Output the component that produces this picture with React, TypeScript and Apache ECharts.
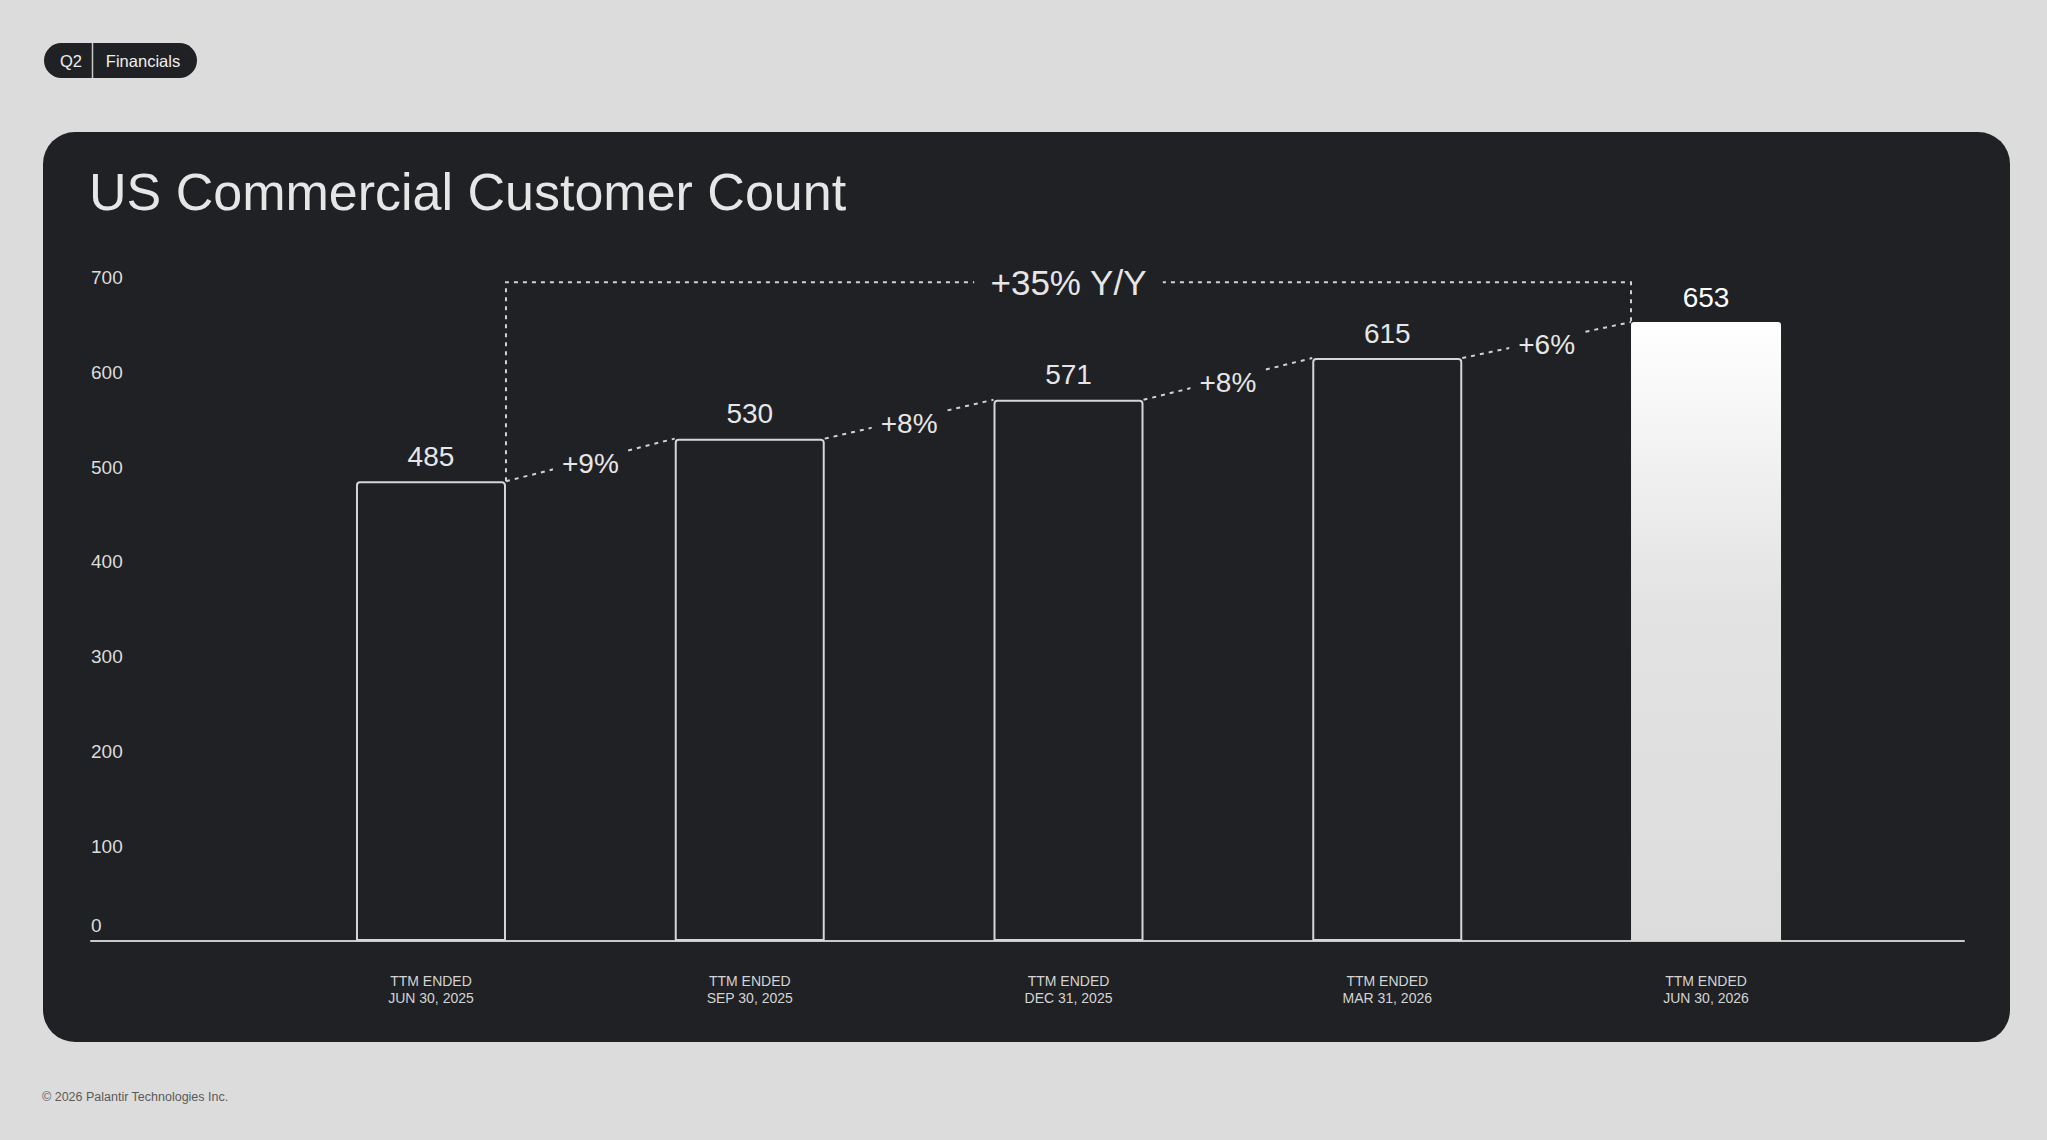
import { useEffect, useRef } from 'react';
import * as echarts from 'echarts';

// Reporting periods (x axis) and customer counts.
const PERIODS = [
  'TTM ENDED\nJUN 30, 2025',
  'TTM ENDED\nSEP 30, 2025',
  'TTM ENDED\nDEC 31, 2025',
  'TTM ENDED\nMAR 31, 2026',
  'TTM ENDED\nJUN 30, 2026',
];
const CUSTOMERS = [485, 530, 571, 615, 653];
const QOQ_GROWTH = ['+9%', '+8%', '+8%', '+6%'];
const YOY_GROWTH = '+35% Y/Y';
const Y_MIN = 0;
const Y_MAX = 700;
const Y_STEP = 100;
const BRACKET_LEVEL = 695;

const FONT = '"Liberation Sans", Arial, sans-serif';
const PAGE_BG = '#dcdcdc';
const CARD_BG = '#1f2124';
const BAR_WIDTH = 150;
const DOT = '#d2d2d2';
const DASH = [4, 5];

export default function App() {
  const ref = useRef<HTMLDivElement>(null);

  useEffect(() => {
    if (!ref.current) return;
    const chart = echarts.init(ref.current, undefined, { renderer: 'svg' });
    const last = CUSTOMERS.length - 1;
    const half = BAR_WIDTH / 2;

    const barData = CUSTOMERS.map((v, i) =>
      i === last
        ? {
            value: v,
            itemStyle: {
              color: new echarts.graphic.LinearGradient(0, 0, 0, 1, [
                { offset: 0, color: '#ffffff' },
                { offset: 0.45, color: '#e3e3e3' },
                { offset: 1, color: '#dcdcdc' },
              ]),
              borderWidth: 0,
            },
            label: { color: '#ffffff' },
          }
        : v,
    );

    // 环比连线：相邻柱顶角之间的点线，中间写增幅。
    const stepData = QOQ_GROWTH.map((_, i) => [i, CUSTOMERS[i], CUSTOMERS[i + 1]]);

    chart.setOption({
      animation: false,
      backgroundColor: PAGE_BG,
      textStyle: { fontFamily: FONT },
      graphic: [
        { type: 'rect', z: -5, shape: { x: 43, y: 132, width: 1967, height: 910, r: 32 }, style: { fill: CARD_BG } },
        { type: 'rect', z: 10, shape: { x: 44, y: 43, width: 153, height: 35, r: 17.5 }, style: { fill: CARD_BG } },
        { type: 'line', z: 11, shape: { x1: 92.5, y1: 43, x2: 92.5, y2: 78 }, style: { stroke: '#c8c8c8', lineWidth: 1.5 } },
        { type: 'text', z: 11, x: 71, y: 61, style: { text: 'Q2', fill: '#f0f0f0', fontSize: 16.5, fontFamily: FONT, align: 'center', verticalAlign: 'middle' } },
        { type: 'text', z: 11, x: 143, y: 61, style: { text: 'Financials', fill: '#f0f0f0', fontSize: 16.5, fontFamily: FONT, align: 'center', verticalAlign: 'middle' } },
        { type: 'text', z: 11, x: 89, y: 192, style: { text: 'US Commercial Customer Count', fill: '#e6e6e6', fontSize: 52, fontFamily: FONT, align: 'left', verticalAlign: 'middle' } },
        { type: 'text', z: 11, x: 42, y: 1097, style: { text: '© 2026 Palantir Technologies Inc.', fill: '#5a5a5a', fontSize: 12.5, fontFamily: FONT, align: 'left', verticalAlign: 'middle' } },
      ],
      grid: [
        { left: 271.6, right: 181.6, top: 277.5, bottom: 199, outerBoundsMode: 'none' },
        { left: 91, right: 83, top: 277.5, bottom: 199, outerBoundsMode: 'none' },
      ],
      xAxis: [
        {
          type: 'category',
          gridIndex: 0,
          data: PERIODS,
          axisLine: { show: false },
          axisTick: { show: false },
          axisLabel: { interval: 0, margin: 31, fontSize: 14, lineHeight: 17, color: '#d4d4d4', fontFamily: FONT },
        },
        {
          type: 'value',
          gridIndex: 1,
          min: 0,
          max: 1,
          axisLine: { show: true, onZero: false, lineStyle: { color: '#c9c9c9', width: 2 } },
          axisTick: { show: false },
          axisLabel: { show: false },
          splitLine: { show: false },
        },
      ],
      yAxis: [
        {
          type: 'value',
          gridIndex: 0,
          min: Y_MIN,
          max: Y_MAX,
          interval: Y_STEP,
          splitLine: { show: false },
          axisLine: { show: false },
          axisTick: { show: false },
          axisLabel: {
            align: 'left',
            margin: 180.6,
            fontSize: 19,
            color: '#dcdcdc',
            fontFamily: FONT,
            formatter: (v: number) => (v === 0 ? '{zero|0}' : String(v)),
            rich: { zero: { fontSize: 19, color: '#dcdcdc', fontFamily: FONT, padding: [0, 0, 32, 0] } },
          },
        },
        { type: 'value', gridIndex: 1, show: false, min: 0, max: 1 },
      ],
      series: [
        {
          type: 'bar',
          xAxisIndex: 0,
          yAxisIndex: 0,
          barWidth: BAR_WIDTH,
          data: barData,
          itemStyle: { color: CARD_BG, borderColor: '#d6d6d6', borderWidth: 2, borderRadius: [3, 3, 0, 0] },
          label: { show: true, position: 'top', distance: 11, fontSize: 28, color: '#e6e6e6', fontFamily: FONT },
          z: 3,
        },
        {
          type: 'custom',
          xAxisIndex: 0,
          yAxisIndex: 0,
          z: 4,
          encode: { x: 0, y: [1, 2] },
          data: stepData,
          renderItem: (params: any, api: any) => {
            const i = api.value(0);
            const a = api.coord([i, api.value(1)]);
            const b = api.coord([i + 1, api.value(2)]);
            const x1 = a[0] + half;
            const x2 = b[0] - half;
            return {
              type: 'group',
              children: [
                {
                  type: 'line',
                  shape: { x1, y1: a[1], x2, y2: b[1] },
                  style: { stroke: DOT, lineWidth: 2, lineDash: DASH },
                },
                {
                  type: 'text',
                  x: (x1 + x2) / 2,
                  y: (a[1] + b[1]) / 2 + 4,
                  style: {
                    text: QOQ_GROWTH[params.dataIndex],
                    fill: '#e6e6e6',
                    fontSize: 28,
                    fontFamily: FONT,
                    align: 'center',
                    verticalAlign: 'middle',
                    backgroundColor: CARD_BG,
                    padding: [2, 9],
                  },
                },
              ],
            };
          },
        },
        {
          type: 'custom',
          xAxisIndex: 0,
          yAxisIndex: 0,
          z: 4,
          encode: { x: 0, y: [1, 2] },
          data: [[0, CUSTOMERS[0], CUSTOMERS[last]]],
          renderItem: (_params: any, api: any) => {
            const a = api.coord([0, api.value(1)]);
            const b = api.coord([last, api.value(2)]);
            const top = api.coord([0, BRACKET_LEVEL])[1];
            const x1 = a[0] + half;
            const x2 = b[0] - half;
            return {
              type: 'group',
              children: [
                {
                  type: 'polyline',
                  shape: { points: [[x1, a[1]], [x1, top], [x2, top], [x2, b[1]]] },
                  style: { stroke: DOT, lineWidth: 2, lineDash: DASH, fill: null },
                },
                {
                  type: 'text',
                  x: (x1 + x2) / 2,
                  y: top,
                  style: {
                    text: YOY_GROWTH,
                    fill: '#e6e6e6',
                    fontSize: 35,
                    fontFamily: FONT,
                    align: 'center',
                    verticalAlign: 'middle',
                    backgroundColor: CARD_BG,
                    padding: [4, 16],
                  },
                },
              ],
            };
          },
        },
      ],
    });

    return () => {
      chart.dispose();
    };
  }, []);

  return <div ref={ref} style={{ position: 'fixed', left: 0, top: 0, width: 2047, height: 1140 }} />;
}
